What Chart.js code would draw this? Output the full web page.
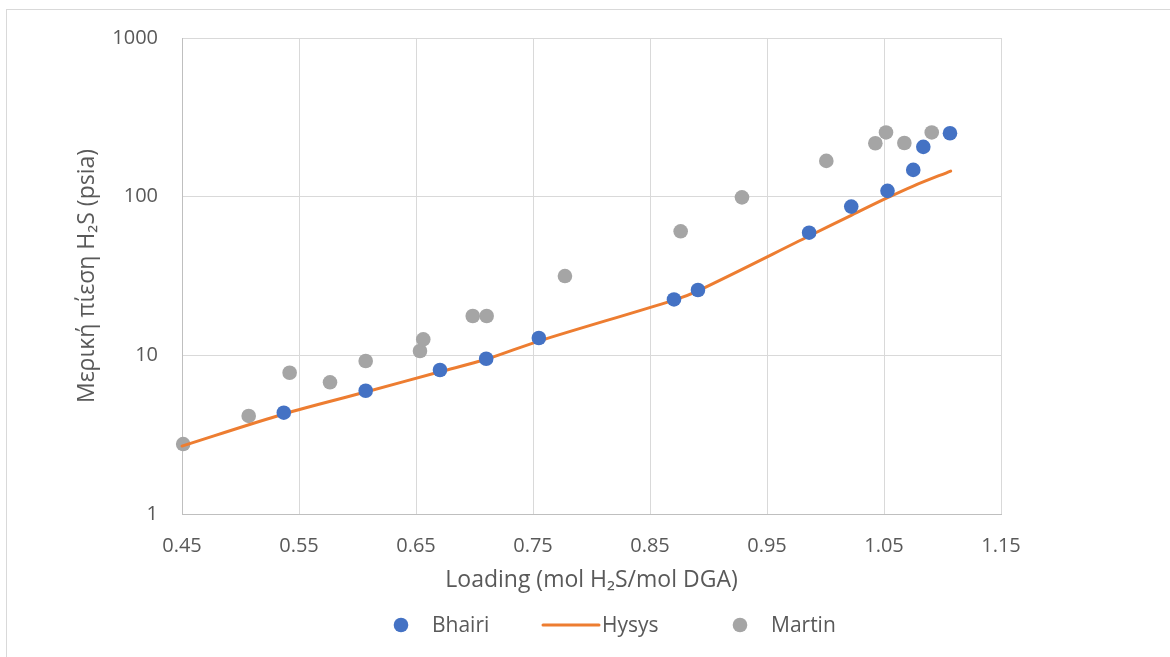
<!DOCTYPE html>
<html>
<head>
<meta charset="utf-8">
<script src="https://cdn.jsdelivr.net/npm/chart.js@4"></script>
<style>
  html, body { margin: 0; padding: 0; background: #ffffff; }
  #wrap { position: relative; width: 1170px; height: 657px; overflow: hidden; }
  #frame { position: absolute; left: 6px; top: 9px; width: 1180px; height: 670px; border: 1px solid #d9d9d9; box-sizing: border-box; }
  canvas { position: absolute; left: 0; top: 0; }
</style>
</head>
<body>
<div id="wrap">
  <div id="frame"></div>
  <canvas id="c" width="1170" height="657"></canvas>
</div>
<script>
// H2S loading (mol H2S / mol DGA) and partial pressure (psia)
const bhairiLoading  = [0.537, 0.607, 0.6705, 0.710, 0.755, 0.8705, 0.891, 0.986, 1.022, 1.053, 1.075, 1.0836, 1.1064];
const bhairiPressure = [4.35, 5.98, 8.08, 9.52, 12.86, 22.5, 25.8, 59.3, 86.6, 108.8, 147.5, 206, 251];

const hysysLoading  = [0.45, 0.537, 0.607, 0.6705, 0.710, 0.755, 0.8705, 0.891, 0.986, 1.022, 1.053, 1.075, 1.107];
const hysysPressure = [2.68, 4.27, 5.87, 7.88, 9.44, 12.3, 22.3, 25.5, 56.5, 76.3, 98.5, 116.7, 145];

const martinLoading  = [0.451, 0.507, 0.542, 0.5765, 0.607, 0.6534, 0.6562, 0.6985, 0.7104, 0.7773, 0.8762, 0.9286, 1.0007, 1.0426, 1.0517, 1.0674, 1.0908];
const martinPressure = [2.76, 4.15, 7.77, 6.76, 9.21, 10.65, 12.6, 17.7, 17.7, 31.6, 60.5, 99, 168, 217, 254, 218, 254];

const xTicks = [0.45, 0.55, 0.65, 0.75, 0.85, 0.95, 1.05, 1.15];
const yTicks = [1, 10, 100, 1000];

const seriesNames = ['Bhairi', 'Hysys', 'Martin'];

const toPoints = (xs, ys) => xs.map((x, i) => ({ x: x, y: ys[i] }));

const TEXT = '#595959';
const FAMILY = "'Open Sans', sans-serif";
const TICK_FONT = { family: FAMILY, size: 20 };
const TITLE_FONT = { family: FAMILY, size: 23 };

// Legend drawn under the x-axis title
const bottomLegend = {
  id: 'bottomLegend',
  afterDraw(chart) {
    const ctx = chart.ctx;
    const ds = chart.data.datasets;
    const y = 625;
    ctx.save();
    ctx.font = "21px " + FAMILY;
    ctx.textBaseline = 'middle';
    const items = [
      { kind: 'dot',  cx: 401, tx: 432 },
      { kind: 'line', x0: 543, x1: 599, tx: 602 },
      { kind: 'dot',  cx: 740, tx: 771 }
    ];
    items.forEach((it, i) => {
      const d = ds[i];
      if (it.kind === 'dot') {
        ctx.beginPath();
        ctx.arc(it.cx, y, 7.3, 0, Math.PI * 2);
        ctx.fillStyle = d.backgroundColor;
        ctx.fill();
      } else {
        ctx.beginPath();
        ctx.moveTo(it.x0, y);
        ctx.lineTo(it.x1, y);
        ctx.strokeStyle = d.borderColor;
        ctx.lineWidth = 3;
        ctx.lineCap = 'round';
        ctx.stroke();
      }
      ctx.fillStyle = TEXT;
      ctx.textAlign = 'left';
      ctx.fillText(d.label, it.tx, y + 1);
    });
    ctx.restore();
  }
};

new Chart(document.getElementById('c'), {
  type: 'scatter',
  data: {
    datasets: [
      {
        label: seriesNames[0],
        data: toPoints(bhairiLoading, bhairiPressure),
        backgroundColor: '#4472C4',
        borderColor: '#4472C4',
        pointRadius: 7.3,
        pointHoverRadius: 7.3,
        pointBorderWidth: 0,
        showLine: false,
        clip: false
      },
      {
        label: seriesNames[1],
        data: toPoints(hysysLoading, hysysPressure),
        backgroundColor: '#ED7D31',
        borderColor: '#ED7D31',
        borderWidth: 3,
        pointRadius: 0,
        pointHoverRadius: 0,
        showLine: true,
        tension: 0.3,
        borderCapStyle: 'round',
        clip: false
      },
      {
        label: seriesNames[2],
        data: toPoints(martinLoading, martinPressure),
        backgroundColor: '#A5A5A5',
        borderColor: '#A5A5A5',
        pointRadius: 7.3,
        pointHoverRadius: 7.3,
        pointBorderWidth: 0,
        showLine: false,
        clip: false
      }
    ]
  },
  options: {
    responsive: false,
    animation: false,
    events: [],
    layout: { padding: { left: 0, top: 38, right: 169, bottom: 53 } },
    plugins: {
      legend: { display: false },
      tooltip: { enabled: false }
    },
    scales: {
      x: {
        type: 'linear',
        min: 0.45,
        max: 1.15,
        afterBuildTicks: (s) => { s.ticks = xTicks.map(v => ({ value: v })); },
        afterFit: (s) => { s.height = 90; },
        ticks: {
          color: TEXT,
          font: TICK_FONT,
          padding: 20,
          maxRotation: 0,
          autoSkip: false,
          callback: (v) => Number(v).toFixed(2)
        },
        grid: { color: '#d9d9d9', lineWidth: 1, drawTicks: false },
        border: { color: '#bfbfbf', width: 1 },
        title: {
          display: true,
          text: 'Loading (mol H₂S/mol DGA)',
          color: TEXT,
          font: TITLE_FONT,
          padding: { top: 0, bottom: 10 }
        }
      },
      y: {
        type: 'logarithmic',
        min: 1,
        max: 1000,
        afterBuildTicks: (s) => { s.ticks = yTicks.map(v => ({ value: v })); },
        afterFit: (s) => { s.width = 182; },
        ticks: {
          color: TEXT,
          font: TICK_FONT,
          padding: 24,
          autoSkip: false,
          callback: (v) => String(v)
        },
        grid: { color: '#d9d9d9', lineWidth: 1, drawTicks: false },
        border: { color: '#bfbfbf', width: 1 },
        title: {
          display: true,
          text: 'Μερική πίεση H₂S (psia)',
          color: TEXT,
          font: TITLE_FONT,
          padding: { top: 74, bottom: 0 }
        }
      }
    }
  },
  plugins: [bottomLegend]
});
</script>
</body>
</html>
